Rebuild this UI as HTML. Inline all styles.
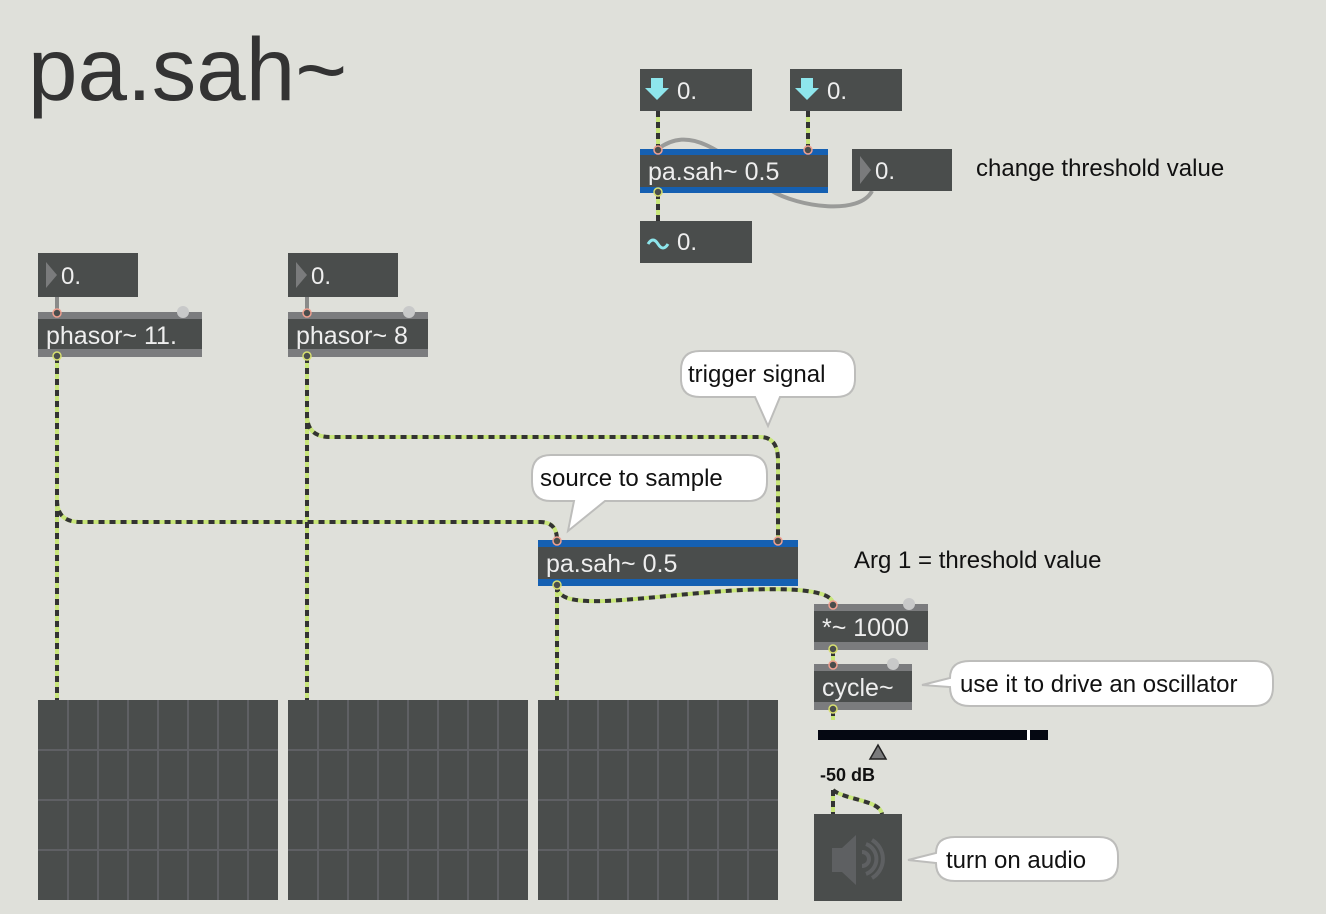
<!DOCTYPE html>
<html><head><meta charset="utf-8"><style>
body{margin:0;background:#dfe0da;}
svg{display:block;}
text{font-family:"Liberation Sans",sans-serif;}
</style></head><body>
<svg width="1326" height="914" viewBox="0 0 1326 914" xmlns="http://www.w3.org/2000/svg">
<rect width="1326" height="914" fill="#dfe0da"/>
<text x="28" y="100" font-size="89" fill="#333">pa.sah~</text>

<!-- gray cords -->
<g fill="none" stroke="#8a8b8a" stroke-width="4">
<path d="M57 297 V312"/><path d="M307 297 V312"/>
<path d="M872 191 C860 215 800 208 770 190 C720 150 690 125 658 149" stroke="#9a9b99"/>
</g>

<!-- signal cords -->
<g fill="none" stroke-width="4">
<g stroke="#c8e67a">
<path d="M57 357 V700"/>
<path d="M57 357 V500 Q57 522 80 522 H540 Q557 522 557 540"/>
<path d="M307 357 V700"/>
<path d="M307 357 V415 Q307 437 330 437 H760 Q778 437 778 460 V540"/>
<path d="M557 586 V700"/>
<path d="M557 586 C557 610 620 600 700 593 C790 585 833 590 833 604"/>
<path d="M833 650 V664"/><path d="M833 710 V720"/>
<path d="M833 790 V814"/><path d="M833 790 C845 800 880 800 882 814"/>
<path d="M658 111 V149"/><path d="M808 111 V149"/><path d="M658 193 V221"/>
</g>
<g stroke="#333" stroke-dasharray="6 5">
<path d="M57 357 V700"/>
<path d="M57 357 V500 Q57 522 80 522 H540 Q557 522 557 540"/>
<path d="M307 357 V700"/>
<path d="M307 357 V415 Q307 437 330 437 H760 Q778 437 778 460 V540"/>
<path d="M557 586 V700"/>
<path d="M557 586 C557 610 620 600 700 593 C790 585 833 590 833 604"/>
<path d="M833 650 V664"/><path d="M833 710 V720"/>
<path d="M833 790 V814"/><path d="M833 790 C845 800 880 800 882 814"/>
<path d="M658 111 V149"/><path d="M808 111 V149"/><path d="M658 193 V221"/>
</g>
</g>

<!-- top section -->
<rect x="640" y="69" width="112" height="42" fill="#4a4d4c"/>
<path d="M651 78 h12 v10 h6 l-12 12 l-12 -12 h6z" fill="#8ee6ec"/>
<text x="677" y="99" font-size="24" fill="#eee">0.</text>
<rect x="790" y="69" width="112" height="42" fill="#4a4d4c"/>
<path d="M801 78 h12 v10 h6 l-12 12 l-12 -12 h6z" fill="#8ee6ec"/>
<text x="827" y="99" font-size="24" fill="#eee">0.</text>

<rect x="640" y="149" width="188" height="44" fill="#4a4d4c"/>
<rect x="640" y="149" width="188" height="6" fill="#1560b2"/>
<rect x="640" y="187" width="188" height="6" fill="#1560b2"/>
<text x="648" y="180" font-size="25" fill="#eee">pa.sah~ 0.5</text>
<circle cx="658" cy="150" r="4" fill="#4a4d4c" stroke="#f0a090" stroke-width="1.5"/>
<circle cx="808" cy="150" r="4" fill="#4a4d4c" stroke="#f0a090" stroke-width="1.5"/>
<circle cx="658" cy="192" r="4" fill="#4a4d4c" stroke="#d8e070" stroke-width="1.5"/>

<rect x="852" y="149" width="100" height="42" fill="#4a4d4c"/>
<path d="M860 156 l11 14 l-11 14z" fill="#7a7b7c"/>
<text x="875" y="179" font-size="24" fill="#eee">0.</text>
<text x="976" y="176" font-size="24" fill="#111">change threshold value</text>

<rect x="640" y="221" width="112" height="42" fill="#4a4d4c"/>
<path d="M648 244 q5 -8 10 0 t10 0" fill="none" stroke="#8ee6ec" stroke-width="3"/>
<text x="677" y="250" font-size="24" fill="#eee">0.</text>

<!-- number boxes -->
<rect x="38" y="253" width="100" height="44" fill="#4a4d4c"/>
<path d="M46 262 l11 13 l-11 13z" fill="#7a7b7c"/>
<text x="61" y="284" font-size="24" fill="#eee">0.</text>
<rect x="288" y="253" width="110" height="44" fill="#4a4d4c"/>
<path d="M296 262 l11 13 l-11 13z" fill="#7a7b7c"/>
<text x="311" y="284" font-size="24" fill="#eee">0.</text>

<!-- phasors -->
<rect x="38" y="312" width="164" height="45" fill="#4a4d4c"/>
<rect x="38" y="312" width="164" height="7" fill="#7b7c7e"/>
<rect x="38" y="349" width="164" height="8" fill="#7b7c7e"/>
<circle cx="183" cy="312" r="6" fill="#c8c9c9"/>
<text x="46" y="344" font-size="25" fill="#eee">phasor~ 11.</text>
<circle cx="57" cy="313" r="4" fill="#4a4d4c" stroke="#f0a090" stroke-width="1.5"/>
<circle cx="57" cy="356" r="4" fill="#4a4d4c" stroke="#d8e070" stroke-width="1.5"/>

<rect x="288" y="312" width="140" height="45" fill="#4a4d4c"/>
<rect x="288" y="312" width="140" height="7" fill="#7b7c7e"/>
<rect x="288" y="349" width="140" height="8" fill="#7b7c7e"/>
<circle cx="409" cy="312" r="6" fill="#c8c9c9"/>
<text x="296" y="344" font-size="25" fill="#eee">phasor~ 8</text>
<circle cx="307" cy="313" r="4" fill="#4a4d4c" stroke="#f0a090" stroke-width="1.5"/>
<circle cx="307" cy="356" r="4" fill="#4a4d4c" stroke="#d8e070" stroke-width="1.5"/>

<!-- bubbles -->
<g fill="#fff" stroke="#bdbdbb" stroke-width="2">
<path d="M700 351 H836 Q855 351 855 370 V379 Q855 397 836 397 H780 L768 426 L755 397 H700 Q681 397 681 379 V370 Q681 351 700 351Z"/>
<path d="M551 455 H748 Q767 455 767 474 V482 Q767 501 748 501 H605 L568 531 L574 501 H551 Q532 501 532 482 V474 Q532 455 551 455Z"/>
<path d="M970 661 H1254 Q1273 661 1273 680 V687 Q1273 706 1254 706 H970 Q950 706 950 687 L922 685 L950 678 Q950 661 970 661Z"/>
<path d="M955 837 H1099 Q1118 837 1118 856 V863 Q1118 881 1099 881 H955 Q936 881 936 863 L908 860 L936 853 Q936 837 955 837Z"/>
</g>
<text x="688" y="382" font-size="24" fill="#111">trigger signal</text>
<text x="540" y="486" font-size="24" fill="#111">source to sample</text>
<text x="960" y="692" font-size="24" fill="#111">use it to drive an oscillator</text>
<text x="946" y="868" font-size="24" fill="#111">turn on audio</text>

<!-- main pa.sah -->
<rect x="538" y="540" width="260" height="46" fill="#4a4d4c"/>
<rect x="538" y="540" width="260" height="7" fill="#1560b2"/>
<rect x="538" y="579" width="260" height="7" fill="#1560b2"/>
<text x="546" y="572" font-size="25" fill="#eee">pa.sah~ 0.5</text>
<circle cx="557" cy="541" r="4" fill="#4a4d4c" stroke="#f0a090" stroke-width="1.5"/>
<circle cx="778" cy="541" r="4" fill="#4a4d4c" stroke="#f0a090" stroke-width="1.5"/>
<circle cx="557" cy="585" r="4" fill="#4a4d4c" stroke="#d8e070" stroke-width="1.5"/>
<text x="854" y="568" font-size="24" fill="#111">Arg 1 = threshold value</text>

<!-- *~ 1000 -->
<rect x="814" y="604" width="114" height="46" fill="#4a4d4c"/>
<rect x="814" y="604" width="114" height="7" fill="#7b7c7e"/>
<rect x="814" y="642" width="114" height="8" fill="#7b7c7e"/>
<circle cx="909" cy="604" r="6" fill="#c8c9c9"/>
<text x="822" y="636" font-size="25" fill="#eee">*~ 1000</text>
<circle cx="833" cy="605" r="4" fill="#4a4d4c" stroke="#f0a090" stroke-width="1.5"/>
<circle cx="833" cy="649" r="4" fill="#4a4d4c" stroke="#d8e070" stroke-width="1.5"/>

<rect x="814" y="664" width="98" height="46" fill="#4a4d4c"/>
<rect x="814" y="664" width="98" height="7" fill="#7b7c7e"/>
<rect x="814" y="702" width="98" height="8" fill="#7b7c7e"/>
<circle cx="893" cy="664" r="6" fill="#c8c9c9"/>
<text x="822" y="696" font-size="25" fill="#eee">cycle~</text>
<circle cx="833" cy="665" r="4" fill="#4a4d4c" stroke="#f0a090" stroke-width="1.5"/>
<circle cx="833" cy="709" r="4" fill="#4a4d4c" stroke="#d8e070" stroke-width="1.5"/>

<!-- meter -->
<rect x="818" y="730" width="230" height="10" fill="#050812"/>
<rect x="1027" y="730" width="3" height="10" fill="#fff"/>
<path d="M878 745 l8 14 h-16z" fill="#7a7b7c" stroke="#222" stroke-width="1.5"/>
<text x="820" y="781" font-size="18" font-weight="bold" fill="#111">-50 dB</text>

<!-- speaker -->
<rect x="814" y="814" width="88" height="87" fill="#4a4d4c"/>
<path d="M832 848 h10 l14 -13 v50 l-14 -13 h-10z" fill="#5e6062"/>
<path d="M862 852 a7 7 0 0 1 0 14 M866 844 a16 16 0 0 1 0 30 M872 840 a22 22 0 0 1 0 38" fill="none" stroke="#5e6062" stroke-width="4"/>

<!-- scopes -->
<g>
<rect x="38" y="700" width="240" height="200" fill="#4a4d4c"/>
<rect x="288" y="700" width="240" height="200" fill="#4a4d4c"/>
<rect x="538" y="700" width="240" height="200" fill="#4a4d4c"/>
<g stroke="#5f6064" stroke-width="2" fill="none">
<path d="M68 700V900M98 700V900M128 700V900M158 700V900M188 700V900M218 700V900M248 700V900M38 750H278M38 800H278M38 850H278"/>
<path d="M318 700V900M348 700V900M378 700V900M408 700V900M438 700V900M468 700V900M498 700V900M288 750H528M288 800H528M288 850H528"/>
<path d="M568 700V900M598 700V900M628 700V900M658 700V900M688 700V900M718 700V900M748 700V900M538 750H778M538 800H778M538 850H778"/>
</g>
</g>
</svg>
</body></html>
